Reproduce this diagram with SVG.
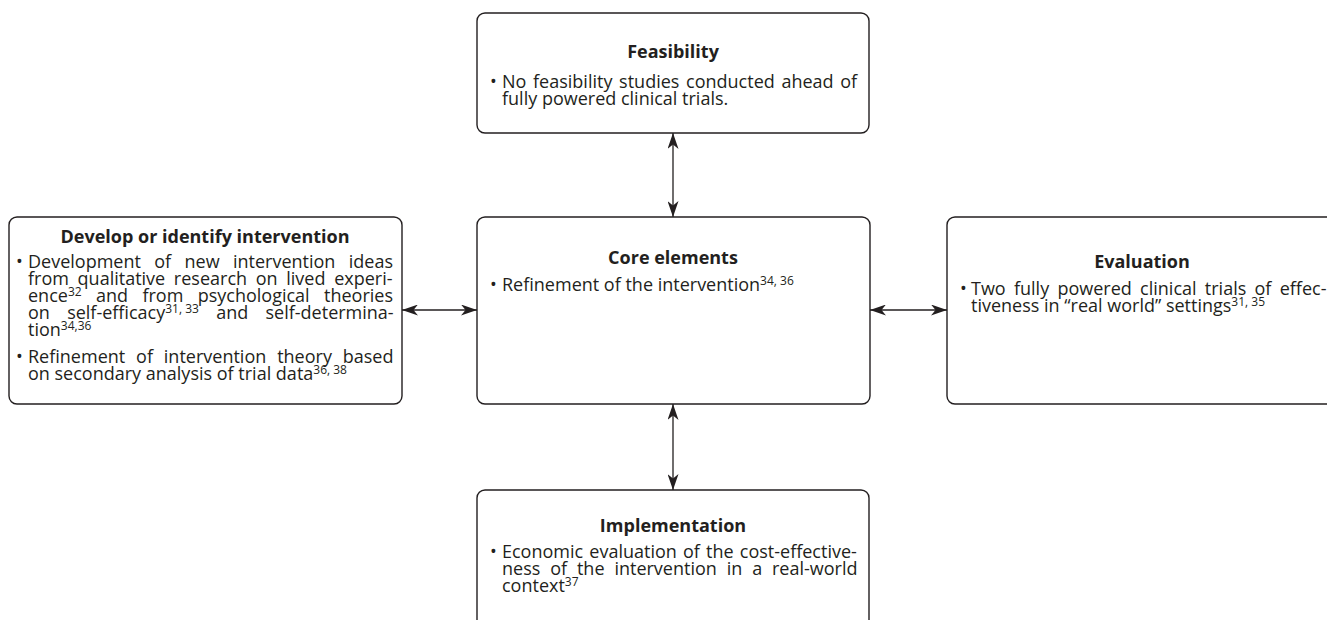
<svg xmlns="http://www.w3.org/2000/svg" width="1327" height="620" viewBox="0 0 1327 620">
<defs>
<style>
.box{fill:#fff;stroke:#231f20;stroke-width:1.4}
.h{font-family:"Open Sans","Noto Sans",sans-serif;font-weight:bold;font-size:18px;fill:#231f20;text-anchor:middle}
.t{font-family:"Open Sans","Noto Sans",sans-serif;font-size:18px;fill:#231f20}
.s{font-size:12px}
.c{stroke:#231f20;stroke-width:1.3;fill:none;marker-start:url(#ah);marker-end:url(#ah)}
</style>
<marker id="ah" viewBox="0 0 16 11" refX="16" refY="5.5" markerWidth="16" markerHeight="11" markerUnits="userSpaceOnUse" orient="auto-start-reverse">
<path d="M0,0 L16,5.5 L0,11 L4.5,5.5 Z" fill="#231f20"/>
</marker>
</defs>
<rect width="1327" height="620" fill="#fff"/>
<g id="connectors">
<line class="c" x1="673" y1="133" x2="673" y2="217"/>
<line class="c" x1="673" y1="404" x2="673" y2="490"/>
<line class="c" x1="402" y1="310" x2="477" y2="310"/>
<line class="c" x1="870" y1="310" x2="947" y2="310"/>
</g>
<g id="feasibility">
<rect class="box" x="477" y="13" width="392" height="120" rx="8"/>
<text class="h" x="673" y="58">Feasibility</text>
<text class="t" x="490" y="88">•</text>
<text class="t" x="502" y="88" word-spacing="2">No feasibility studies conducted ahead of</text>
<text class="t" x="502" y="105">fully powered clinical trials.</text>
</g>
<g id="develop">
<rect class="box" x="9" y="217" width="393" height="187" rx="8"/>
<text class="h" x="205" y="243">Develop or identify intervention</text>
<text class="t" x="16" y="268">•</text>
<text class="t" x="28" y="268" word-spacing="8.7">Development of new intervention ideas</text>
<text class="t" x="28" y="285" word-spacing="4">from qualitative research on lived experi-</text>
<text class="t" x="28" y="302" word-spacing="9.7">ence<tspan class="s" dy="-6">32</tspan><tspan dy="6"> and from psychological theories</tspan></text>
<text class="t" x="28" y="319" word-spacing="12.6">on self-efficacy<tspan class="s" dy="-6" word-spacing="0">31, 33</tspan><tspan dy="6"> and self-determina-</tspan></text>
<text class="t" x="28" y="336">tion<tspan class="s" dy="-6">34,36</tspan></text>
<text class="t" x="16" y="363">•</text>
<text class="t" x="28" y="363" word-spacing="6.2">Refinement of intervention theory based</text>
<text class="t" x="28" y="380">on secondary analysis of trial data<tspan class="s" dy="-6">36, 38</tspan></text>
</g>
<g id="core">
<rect class="box" x="477" y="217" width="393" height="187" rx="8"/>
<text class="h" x="673" y="264">Core elements</text>
<text class="t" x="490" y="291">•</text>
<text class="t" x="502" y="291">Refinement of the intervention<tspan class="s" dy="-6">34, 36</tspan></text>
</g>
<g id="evaluation">
<rect class="box" x="947" y="217" width="393" height="187" rx="8"/>
<text class="h" x="1142" y="268">Evaluation</text>
<text class="t" x="960" y="295">•</text>
<text class="t" x="971" y="295" word-spacing="3.6">Two fully powered clinical trials of effec-</text>
<text class="t" x="971" y="312">tiveness in “real world” settings<tspan class="s" dy="-6">31, 35</tspan></text>
</g>
<g id="implementation">
<rect class="box" x="477" y="490" width="392" height="150" rx="8"/>
<text class="h" x="673" y="532">Implementation</text>
<text class="t" x="490" y="558">•</text>
<text class="t" x="502" y="558" word-spacing="1.5">Economic evaluation of the cost-effective-</text>
<text class="t" x="502" y="575" word-spacing="5.2">ness of the intervention in a real-world</text>
<text class="t" x="502" y="592">context<tspan class="s" dy="-6">37</tspan></text>
</g>
</svg>
